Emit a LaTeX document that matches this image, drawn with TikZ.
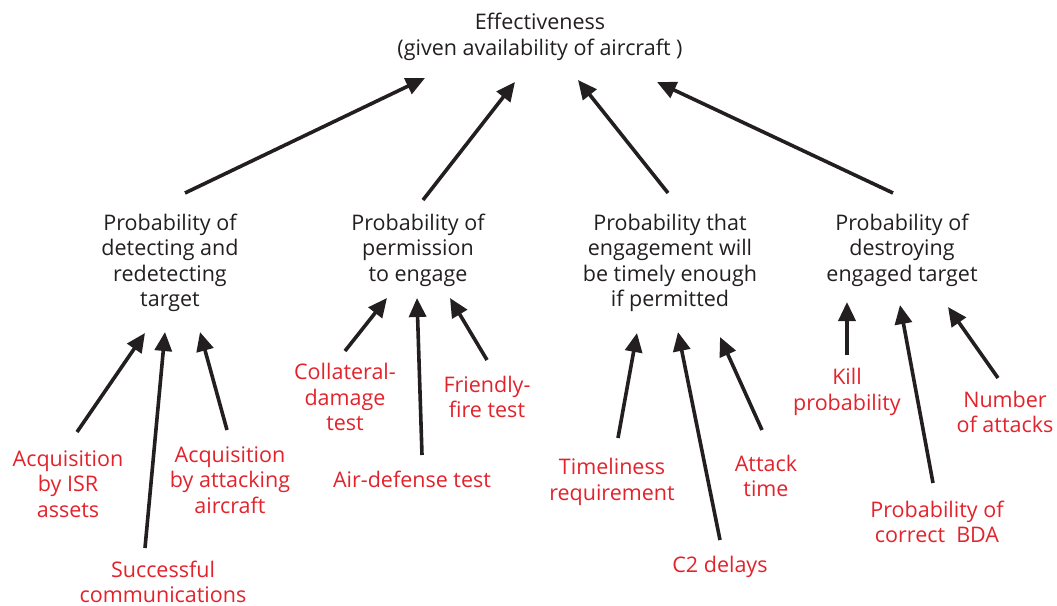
\documentclass[tikz,border=0pt]{standalone}
\usepackage{fontspec}
\setmainfont{Open Sans}
\usetikzlibrary{arrows.meta}
\definecolor{ink}{RGB}{35,31,32}
\definecolor{factor}{RGB}{226,35,44}
\tikzset{
  goal/.style={align=center, text=ink, font=\fontsize{21.5}{25.5}\selectfont, inner sep=0pt},
  leaf/.style={align=center, text=factor, font=\fontsize{21.5}{25.5}\selectfont, inner sep=0pt},
  link/.style={draw=ink, line width=3.6pt, -{Triangle[length=19pt,width=17pt]}},
}
\begin{document}
\begin{tikzpicture}[x=1pt,y=-1pt]
\useasboundingbox (0,0) rectangle (1057,605);

% top-level measure
\node[goal] (top) at (540,37) {Effectiveness\\(given availability of aircraft )};

% second-level probabilities
\node[goal] (A) at (170,263) {Probability of\\detecting and\\redetecting\\target};
\node[goal] (B) at (418,250) {Probability of\\permission\\to engage};
\node[goal] (C) at (670,263) {Probability that\\engagement will\\be timely enough\\if permitted};
\node[goal] (D) at (902,250) {Probability of\\destroying\\engaged target};

% contributing factors
\node[leaf] (isr)  at (68,484)   {Acquisition\\by ISR\\assets};
\node[leaf] (comm) at (163,582)  {Successful\\communications};
\node[leaf] (att)  at (230,480)  {Acquisition\\by attacking\\aircraft};
\node[leaf] (col)  at (345,397)  {Collateral-\\damage\\test};
\node[leaf] (air)  at (412,479)  {Air-defense test};
\node[leaf] (fri)  at (487,397)  {Friendly-\\fire test};
\node[leaf] (tim)  at (612,482)  {Timeliness\\requirement};
\node[leaf] (c2)   at (720,567)  {C2 delays};
\node[leaf] (atk)  at (766,476)  {Attack\\time};
\node[leaf] (kill) at (847,392)  {Kill\\probability};
\node[leaf] (bda)  at (937,522)  {Probability of\\correct~~BDA};
\node[leaf] (num)  at (1005,412) {Number\\of attacks};

% second level to top
\draw[link] ([shift={(15,-70)}]A.center) -- ([shift={(-115,41)}]top.center);
\draw[link] ([shift={(5,-50)}]B.center)  -- ([shift={(-25,45)}]top.center);
\draw[link] ([shift={(-2,-70)}]C.center) -- ([shift={(38,43)}]top.center);
\draw[link] ([shift={(-9,-57)}]D.center) -- ([shift={(117,45)}]top.center);

% detection factors
\draw[link] ([shift={(9,-52)}]isr.center)   -- ([shift={(-25,70)}]A.center);
\draw[link] ([shift={(-18,-34)}]comm.center) -- ([shift={(-5,69)}]A.center);
\draw[link] ([shift={(-3,-50)}]att.center)  -- ([shift={(30,69)}]A.center);

% permission factors
\draw[link] ([shift={(0,-46)}]col.center) -- ([shift={(-31,48)}]B.center);
\draw[link] ([shift={(10,-24)}]air.center) -- ([shift={(-1,48)}]B.center);
\draw[link] ([shift={(0,-37)}]fri.center) -- ([shift={(32,48)}]B.center);

% timeliness factors
\draw[link] ([shift={(6,-44)}]tim.center) -- ([shift={(-33,70)}]C.center);
\draw[link] ([shift={(0,-27)}]c2.center)  -- ([shift={(8,69)}]C.center);
\draw[link] ([shift={(-4,-46)}]atk.center) -- ([shift={(50,74)}]C.center);

% destruction factors
\draw[link] ([shift={(0,-37)}]kill.center) -- ([shift={(-55,52)}]D.center);
\draw[link] ([shift={(-4,-39)}]bda.center) -- ([shift={(-2,55)}]D.center);
\draw[link] ([shift={(-7,-34)}]num.center) -- ([shift={(46,57)}]D.center);
\end{tikzpicture}
\end{document}
